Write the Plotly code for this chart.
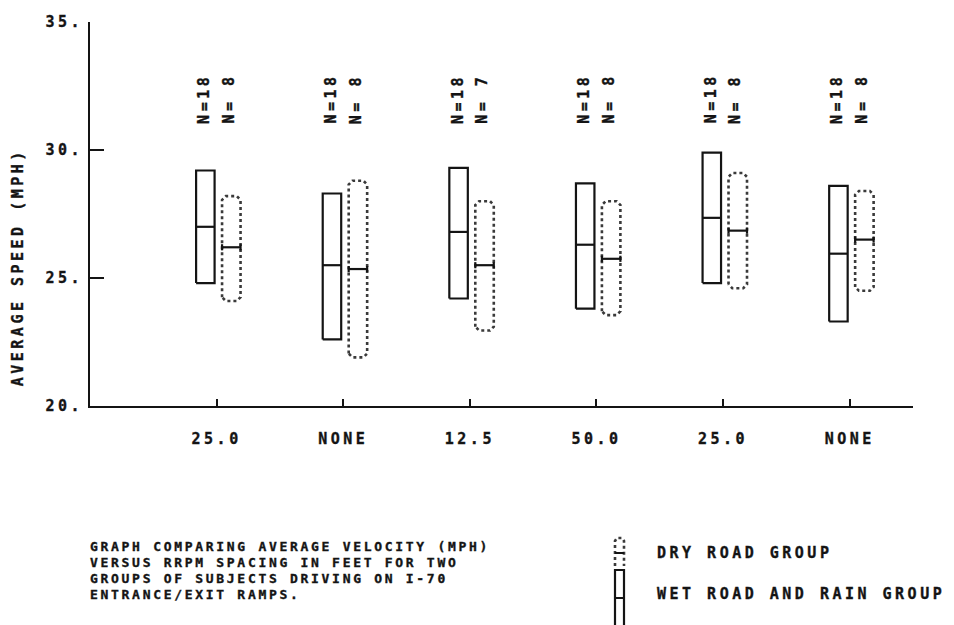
import json
import plotly.graph_objects as go

# Ramp spacing (feet) for each test site, left to right
categories = ["25.0", "NONE", "12.5", "50.0", "25.0", "NONE"]

# Wet road and rain group: range (low/high) and mean speed, mph
wet_low = [24.8, 22.6, 24.2, 23.8, 24.8, 23.3]
wet_high = [29.2, 28.3, 29.3, 28.7, 29.9, 28.6]
wet_mid = [27.0, 25.5, 26.8, 26.3, 27.35, 25.95]
wet_n = [18, 18, 18, 18, 18, 18]

# Dry road group
dry_low = [24.1, 21.9, 22.95, 23.55, 24.6, 24.5]
dry_high = [28.2, 28.8, 28.0, 28.0, 29.1, 28.4]
dry_mid = [26.2, 25.35, 25.5, 25.75, 26.85, 26.5]
dry_n = [8, 8, 7, 8, 8, 8]

y_ticks = [20, 25, 30, 35]
y_tick_text = ["20.", "25.", "30.", "35."]

caption = ["GRAPH COMPARING AVERAGE VELOCITY (MPH)",
           "VERSUS RRPM SPACING IN FEET FOR TWO",
           "GROUPS OF SUBJECTS DRIVING ON I-70",
           "ENTRANCE/EXIT RAMPS."]

FONT = "DejaVu Sans Mono"
INK = "#141414"
DOTS = "#3a3a3a"
W, H = 954, 625
L, R, T, B = 90, 41, 22, 219

WET_OFF, DRY_OFF, HALF = -0.089, 0.116, 0.073

positions = list(range(1, len(categories) + 1))


def px_x(p):
    return (p - L) / (W - L - R)


def px_y(p):
    return (H - B - p) / (H - T - B)


def label_font(size=15):
    return dict(family=FONT, size=size, color=INK, weight="bold")


fig = go.Figure()

# Wet group: solid rectangles with mean bar
wx, wy = [], []
for i, p in enumerate(positions):
    c = p + WET_OFF
    x0, x1 = c - HALF, c + HALF
    wx += [x0, x1, x1, x0, x0, None, x0, x1, None]
    wy += [wet_low[i], wet_low[i], wet_high[i], wet_high[i], wet_low[i], None,
           wet_mid[i], wet_mid[i], None]
fig.add_trace(go.Scatter(x=wx, y=wy, mode="lines", hoverinfo="skip",
                         line=dict(color=INK, width=2.2), showlegend=False))

# Dry group: dotted outline with softened corners, plus capped mean bar
dx, dy = [], []
mx, my = [], []
for i, p in enumerate(positions):
    c = p + DRY_OFF
    x0, x1 = c - HALF, c + HALF
    lo, hi = dry_low[i], dry_high[i]
    rx, ry = 0.03, 0.15
    dx += [x0, x0, x0 + rx, x1 - rx, x1, x1, x1 - rx, x0 + rx, x0, None]
    dy += [lo + ry, hi - ry, hi, hi, hi - ry, lo + ry, lo, lo, lo + ry, None]
    m = dry_mid[i]
    mx += [x0, x1, None, x0, x0, None, x1, x1, None]
    my += [m, m, None, m - 0.12, m + 0.12, None, m - 0.12, m + 0.12, None]
fig.add_trace(go.Scatter(x=dx, y=dy, mode="lines", hoverinfo="skip",
                         line=dict(color=DOTS, width=2.6, dash="dot"),
                         showlegend=False))
fig.add_trace(go.Scatter(x=mx, y=my, mode="lines", hoverinfo="skip",
                         line=dict(color=INK, width=2.2), showlegend=False))

# Sample-size labels above each pair
for i, p in enumerate(positions):
    fig.add_annotation(x=p + WET_OFF - 0.01, y=32.0, xref="x", yref="y",
                       xanchor="center", yanchor="middle",
                       text=f"N={wet_n[i]}", textangle=-90, showarrow=False,
                       font=label_font())
    fig.add_annotation(x=p + DRY_OFF - 0.02, y=32.0, xref="x", yref="y",
                       xanchor="center", yanchor="middle",
                       text=f"N={dry_n[i]:2d}".replace(" ", "\u00a0"),
                       textangle=-90, showarrow=False, font=label_font())

# Y-axis title
fig.add_annotation(x=px_x(18), y=px_y(267), xref="paper", yref="paper",
                   xanchor="center", yanchor="middle",
                   text="AVERAGE SPEED (MPH)", textangle=-90, showarrow=False,
                   font=label_font())

# Left-aligned texts (caption and legend labels) keep their left edge
# when the lettering is widened below.
left_aligned = []

# Caption, one line per annotation for tight line spacing
for k, line in enumerate(caption):
    left_aligned.append(len(fig.layout.annotations))
    fig.add_annotation(x=px_x(88), y=px_y(546 + 16 * k), xref="paper",
                       yref="paper", xanchor="left", yanchor="middle",
                       text=line, showarrow=False, font=label_font(13))

# Legend glyphs and labels
lx0, lx1 = px_x(615), px_x(624)
fig.add_shape(type="path", xref="paper", yref="paper",
              path=(f"M{lx0},{px_y(566)} L{lx0},{px_y(541)} L{px_x(617)},{px_y(538)} "
                    f"L{px_x(622)},{px_y(538)} L{lx1},{px_y(541)} L{lx1},{px_y(566)}"),
              line=dict(color=DOTS, width=2.6, dash="dot"))
fig.add_shape(type="line", xref="paper", yref="paper",
              x0=lx0, x1=lx1, y0=px_y(553), y1=px_y(553),
              line=dict(color=INK, width=2))
fig.add_shape(type="path", xref="paper", yref="paper",
              path=(f"M{lx0},{px_y(627)} L{lx0},{px_y(570)} L{lx1},{px_y(570)} "
                    f"L{lx1},{px_y(627)} M{lx0},{px_y(598)} L{lx1},{px_y(598)}"),
              line=dict(color=INK, width=2.2))
left_aligned.append(len(fig.layout.annotations))
fig.add_annotation(x=px_x(655), y=px_y(553), xref="paper", yref="paper",
                   xanchor="left", yanchor="middle", text="DRY ROAD GROUP",
                   showarrow=False, font=label_font())
left_aligned.append(len(fig.layout.annotations))
fig.add_annotation(x=px_x(655), y=px_y(594), xref="paper", yref="paper",
                   xanchor="left", yanchor="middle",
                   text="WET ROAD AND RAIN GROUP", showarrow=False,
                   font=label_font())

fig.update_layout(
    width=W, height=H,
    margin=dict(l=L, r=R, t=T, b=B, autoexpand=False),
    paper_bgcolor="white", plot_bgcolor="white",
    font=dict(family=FONT, color=INK),
    xaxis=dict(range=[0, 6.5], tickvals=positions, ticktext=categories,
               showgrid=False, zeroline=False, showline=True,
               linecolor=INK, linewidth=2, ticks="inside", ticklen=7,
               tickwidth=1.5, tickcolor=INK, ticklabelstandoff=18,
               tickfont=label_font()),
    yaxis=dict(range=[20, 35], tickvals=y_ticks, ticktext=y_tick_text,
               showgrid=False, zeroline=False, showline=True,
               linecolor=INK, linewidth=2, ticks="inside", ticklen=14,
               tickwidth=1.5, tickcolor=INK, ticklabelstandoff=2,
               tickfont=label_font()),
)

# Widen and thicken the lettering to the broad plotter style: caption
# text (13px) gets its own tracking, every other label a bit less.
post = """
var leftIdx = %s;
document.querySelectorAll('.main-svg text').forEach(function (t) {
  var fs = parseFloat(t.style.fontSize || '0');
  var g = t.closest('g.annotation');
  var idx = g ? parseInt(g.getAttribute('data-index'), 10) : -1;
  var box = leftIdx.indexOf(idx) >= 0 ? t.getBBox() : null;
  t.style.letterSpacing = (fs > 0 && fs < 14) ? '2.7px' : '3.5px';
  t.style.stroke = '%s';
  t.style.strokeWidth = '0.35px';
  if (box) {
    t.setAttribute('text-anchor', 'start');
    t.setAttribute('x', box.x);
    t.querySelectorAll('tspan').forEach(function (s) {
      if (s.hasAttribute('x')) { s.setAttribute('x', box.x); }
    });
  }
});
""" % (json.dumps(left_aligned), INK)

fig.write_html("out.html", post_script=post)
